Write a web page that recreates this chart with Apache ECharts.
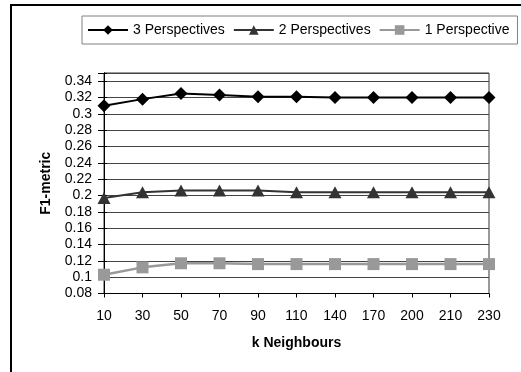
<!DOCTYPE html>
<html>
<head>
<meta charset="utf-8">
<script src="https://cdn.jsdelivr.net/npm/echarts@6/dist/echarts.min.js"></script>
<style>html,body{margin:0;padding:0;background:#fff}#c{width:521px;height:372px}</style>
</head>
<body>
<div id="c"></div>
<script>
var categories = ['10','30','50','70','90','110','140','170','200','210','230'];
var threePersp = [0.310,0.318,0.325,0.323,0.321,0.321,0.320,0.320,0.320,0.320,0.320];
var twoPersp   = [0.197,0.204,0.206,0.206,0.206,0.204,0.204,0.204,0.204,0.204,0.204];
var onePersp   = [0.103,0.112,0.117,0.117,0.116,0.116,0.116,0.116,0.116,0.116,0.116];
var seriesNames = ['3 Perspectives','2 Perspectives','1 Perspective'];

var font = 'Liberation Sans, Arial, sans-serif';
var chart = echarts.init(document.getElementById('c'));
chart.setOption({
  animation: false,
  backgroundColor: '#fff',
  graphic: [
    {type:'line', shape:{x1:10,y1:5,x2:521,y2:5}, style:{stroke:'#000',lineWidth:2}},
    {type:'line', shape:{x1:11,y1:4,x2:11,y2:372}, style:{stroke:'#000',lineWidth:2}}
  ],
  legend: {
    left: 82, top: 16,
    padding: [7, 8, 7, 5],
    borderColor: '#808080', borderWidth: 1,
    itemWidth: 40, itemHeight: 12, itemGap: 8,
    textStyle: {fontFamily: font, fontSize: 14, color: '#000'},
    data: seriesNames
  },
  grid: {left: 104, right: 32, top: 73, bottom: 78.5, show: true, borderColor: '#333', borderWidth: 1, backgroundColor: 'transparent'},
  xAxis: {
    type: 'category', data: categories, boundaryGap: false,
    name: 'k Neighbours', nameLocation: 'middle', nameGap: 43,
    nameTextStyle: {fontFamily: font, fontSize: 14, fontWeight: 'bold', color: '#000'},
    axisLine: {lineStyle: {color: '#000', width: 1}},
    axisTick: {show: true, length: 4, alignWithLabel: true, lineStyle: {color: '#000'}},
    axisLabel: {fontFamily: font, fontSize: 14, color: '#000', margin: 16, interval: 0},
    splitLine: {show: false}
  },
  yAxis: [{
    type: 'value', min: 0.08, max: 0.35, interval: 0.02,
    name: 'F1-metric', nameLocation: 'middle', nameGap: 51, nameRotate: 90,
    nameTextStyle: {fontFamily: font, fontSize: 14, fontWeight: 'bold', color: '#000'},
    axisLine: {show: true, lineStyle: {color: '#000', width: 1}},
    axisTick: {show: true, length: 6, lineStyle: {color: '#000'}},
    axisLabel: {fontFamily: font, fontSize: 14, color: '#000', margin: 12,
      formatter: function (v) { if (Math.abs(v - 0.35) < 1e-6) return ''; return String(parseFloat(v.toFixed(2))); }},
    splitLine: {show: true, lineStyle: {color: '#444', width: 1}}
  }, {
    type: 'value', min: 0.08, max: 0.35, interval: 0.02, position: 'left',
    axisLine: {show: true, lineStyle: {color: '#000', width: 1}},
    axisTick: {show: true, inside: true, length: 3, lineStyle: {color: '#000'}},
    axisLabel: {show: false}, splitLine: {show: false}
  }],
  series: [
    {name: seriesNames[0], type: 'line', data: threePersp, symbol: 'diamond', symbolSize: 13,
      lineStyle: {color: '#000', width: 2}, itemStyle: {color: '#000'}, z: 4},
    {name: seriesNames[1], type: 'line', data: twoPersp, symbol: 'triangle', symbolSize: [13, 12],
      lineStyle: {color: '#333', width: 2}, itemStyle: {color: '#333'}, z: 3},
    {name: seriesNames[2], type: 'line', data: onePersp, symbol: 'rect', symbolSize: 12,
      lineStyle: {color: '#999', width: 2.5}, itemStyle: {color: '#999'}, z: 2}
  ]
});
</script>
</body>
</html>
